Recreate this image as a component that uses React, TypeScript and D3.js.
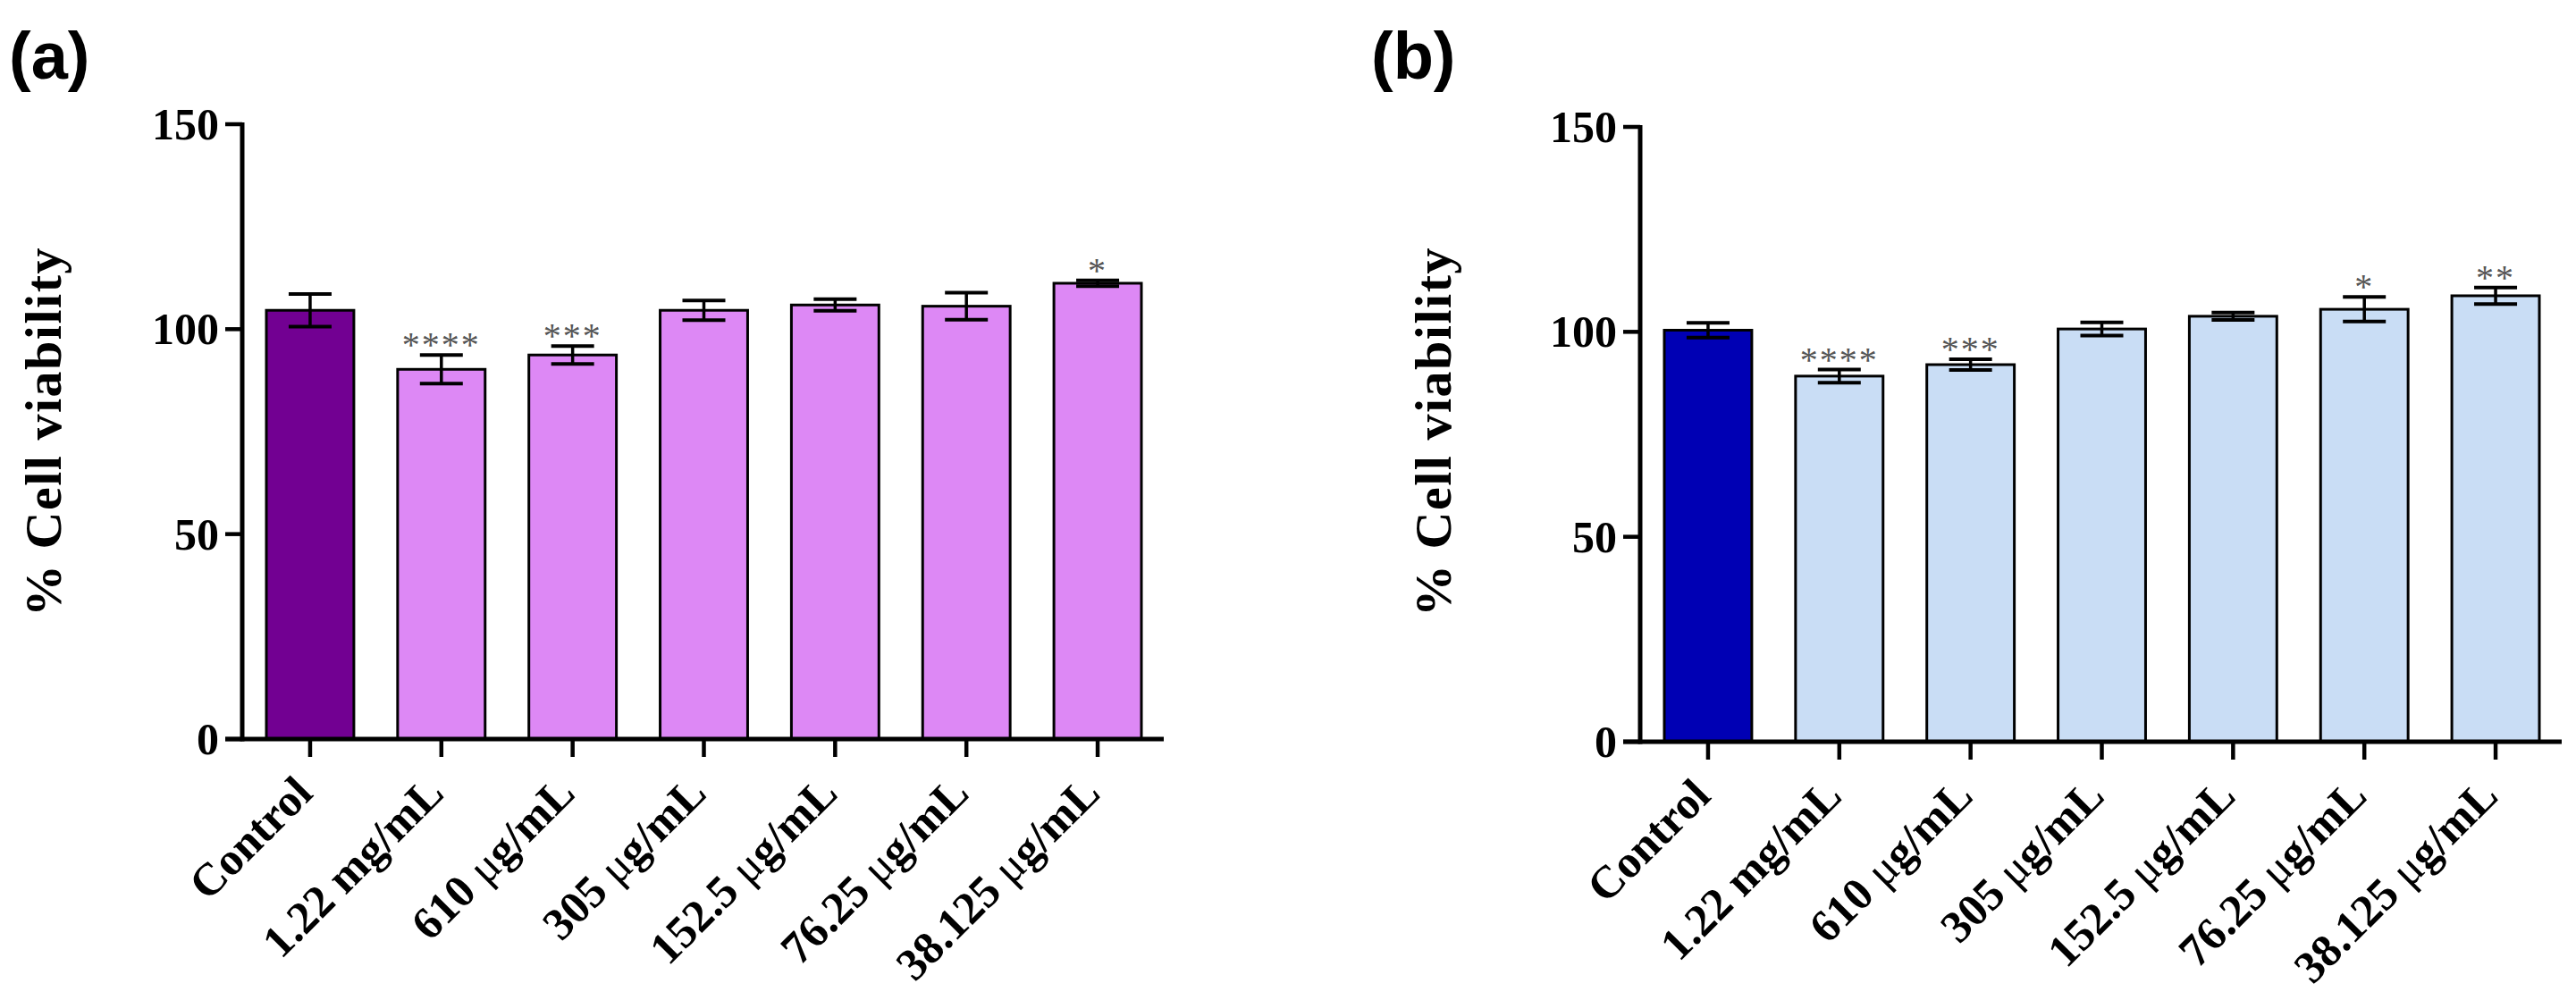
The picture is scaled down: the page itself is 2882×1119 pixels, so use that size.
import * as d3 from "d3";
import { useEffect, useRef } from "react";

const categories = [
  "Control",
  "1.22 mg/mL",
  "610 μg/mL",
  "305 μg/mL",
  "152.5 μg/mL",
  "76.25 μg/mL",
  "38.125 μg/mL",
];
const yTicks = [0, 50, 100, 150];

// panel (a)
const meansA = [104.6, 90.2, 93.7, 104.6, 105.9, 105.6, 111.2];
const errA = [4.0, 3.5, 2.2, 2.4, 1.4, 3.3, 0.7];
const starsA = ["", "****", "***", "", "", "", "*"];

// panel (b)
const meansB = [100.4, 89.2, 92.0, 100.7, 103.8, 105.5, 108.8];
const errB = [1.8, 1.6, 1.3, 1.6, 0.9, 3.0, 2.0];
const starsB = ["", "****", "***", "", "", "*", "**"];

interface Panel {
  tag: string;
  means: number[];
  errs: number[];
  stars: string[];
  dark: string;
  light: string;
  axisX: number;
  y0: number;
  y150: number;
  tagX: number;
  labelX: number;
}

const panels: Panel[] = [
  {
    tag: "(a)", means: meansA, errs: errA, stars: starsA,
    dark: "#720092", light: "#DD88F5",
    axisX: 271, y0: 827, y150: 139, tagX: 10, labelX: 48,
  },
  {
    tag: "(b)", means: meansB, errs: errB, stars: starsB,
    dark: "#0000B4", light: "#C9DDF5",
    axisX: 1835, y0: 830, y150: 142, tagX: 1534, labelX: 1603,
  },
];

const W = 2882;
const H = 1119;
const serif = "'Liberation Serif', 'Times New Roman', serif";

export default function App() {
  const svgRef = useRef<SVGSVGElement | null>(null);

  useEffect(() => {
    const svg = d3.select(svgRef.current);
    svg.selectAll("*").remove();

    panels.forEach((p) => {
      const g = svg.append("g");

      const x = d3
        .scaleBand()
        .domain(categories)
        .range([p.axisX + 27, p.axisX + 1006])
        .paddingInner(1 / 3)
        .paddingOuter(0);

      const y = d3.scaleLinear().domain([0, 150]).range([p.y0, p.y150]);
      const xEnd = p.axisX + 1031;

      // bars
      g.selectAll(".bar")
        .data(p.means)
        .join("rect")
        .attr("class", "bar")
        .attr("x", (_, i) => x(categories[i])!)
        .attr("y", (d) => y(d))
        .attr("width", x.bandwidth())
        .attr("height", (d) => y(0) - y(d))
        .attr("fill", (_, i) => (i === 0 ? p.dark : p.light))
        .attr("stroke", "#000")
        .attr("stroke-width", 3);

      // error bars (mean ± SD) and significance stars
      const capHalf = 24;
      p.means.forEach((m, i) => {
        const cx = x(categories[i])! + x.bandwidth() / 2;
        const e = p.errs[i];
        g.append("line")
          .attr("x1", cx).attr("x2", cx)
          .attr("y1", y(m + e)).attr("y2", y(m - e))
          .attr("stroke", "#000").attr("stroke-width", 3.5);
        [m + e, m - e].forEach((v) => {
          g.append("line")
            .attr("x1", cx - capHalf).attr("x2", cx + capHalf)
            .attr("y1", y(v)).attr("y2", y(v))
            .attr("stroke", "#000").attr("stroke-width", 4);
        });
        if (p.stars[i]) {
          g.append("text")
            .attr("x", cx)
            .attr("y", y(m + e) + 2)
            .attr("text-anchor", "middle")
            .style("font-family", serif)
            .style("font-size", "40px")
            .style("fill", "#555")
            .style("letter-spacing", "2px")
            .text(p.stars[i]);
        }
      });

      // y axis
      g.append("line")
        .attr("x1", p.axisX).attr("x2", p.axisX)
        .attr("y1", y(150) - 2).attr("y2", y(0) + 2.5)
        .attr("stroke", "#000").attr("stroke-width", 5);
      yTicks.forEach((t) => {
        g.append("line")
          .attr("x1", p.axisX - 19).attr("x2", p.axisX)
          .attr("y1", y(t)).attr("y2", y(t))
          .attr("stroke", "#000").attr("stroke-width", 4.5);
        g.append("text")
          .attr("x", p.axisX - 26)
          .attr("y", y(t))
          .attr("dy", "0.34em")
          .attr("text-anchor", "end")
          .style("font-family", serif)
          .style("font-weight", "bold")
          .style("font-size", "50px")
          .text(t);
      });

      // x axis
      g.append("line")
        .attr("x1", p.axisX - 19).attr("x2", xEnd)
        .attr("y1", y(0)).attr("y2", y(0))
        .attr("stroke", "#000").attr("stroke-width", 5);
      categories.forEach((c) => {
        const cx = x(c)! + x.bandwidth() / 2;
        g.append("line")
          .attr("x1", cx).attr("x2", cx)
          .attr("y1", y(0)).attr("y2", y(0) + 20)
          .attr("stroke", "#000").attr("stroke-width", 4.5);
        const label = g.append("text")
          .attr("transform", `translate(${cx + 5},${y(0) + 63}) rotate(-45)`)
          .attr("text-anchor", "end")
          .style("font-family", serif)
          .style("font-weight", "bold")
          .style("font-size", "51px");
        // the mu is set in a lighter weight, as in the original figure
        const parts = c.split("μ");
        label.append("tspan").text(parts[0]);
        if (parts.length > 1) {
          label.append("tspan").style("font-weight", "normal").text("μ");
          label.append("tspan").text(parts[1]);
        }
      });

      // y axis title
      g.append("text")
        .attr("transform", `translate(${p.labelX + 20},${483}) rotate(-90)`)
        .attr("text-anchor", "middle")
        .style("font-family", serif)
        .style("font-weight", "bold")
        .style("font-size", "58px")
        .style("letter-spacing", "1.5px")
        .text("% Cell viability");

      // panel tag
      svg.append("text")
        .attr("x", p.tagX)
        .attr("y", 88)
        .style("font-family", "'Liberation Sans', Arial, sans-serif")
        .style("font-weight", "bold")
        .style("font-size", "74px")
        .text(p.tag);
    });
  }, []);

  return (
    <div style={{ position: "absolute", left: 0, top: 0, width: W, height: H, background: "#fff" }}>
      <svg ref={svgRef} width={W} height={H} style={{ display: "block" }}></svg>
    </div>
  );
}
